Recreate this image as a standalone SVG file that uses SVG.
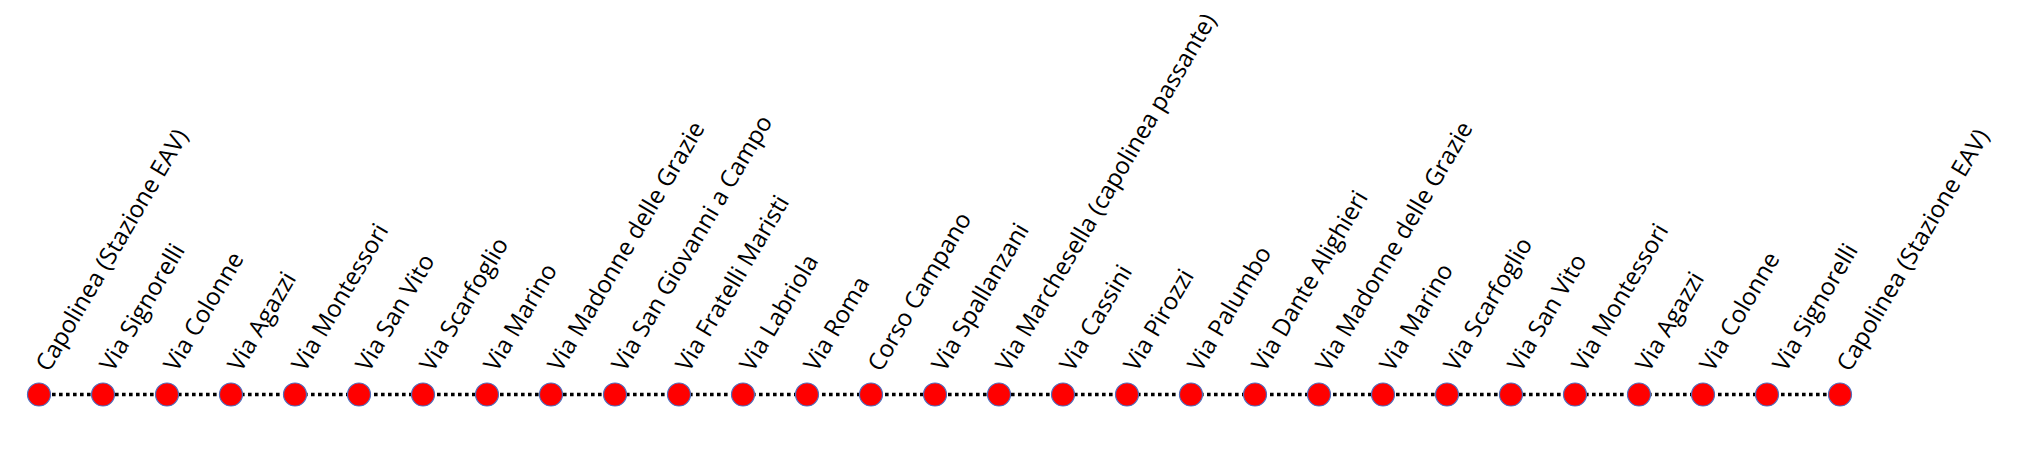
<svg xmlns="http://www.w3.org/2000/svg" width="2022" height="451" viewBox="0 0 2022 451">
<style>
.stop{fill:#FF0000;stroke:#4F6FC0;stroke-width:1.2}
.lbl{font-family:"Open Sans","Noto Sans",sans-serif;font-size:24px;fill:#000}
.line{stroke:#000;stroke-width:3.6;stroke-dasharray:3.6 3.4;fill:none}
</style>
<rect width="2022" height="451" fill="#fff"/>
<g id="connectors">
<line class="line" x1="38" y1="394.5" x2="1840" y2="394.5"/>
</g>
<g id="s0"><circle class="stop" cx="39" cy="394.5" r="11.5"/><text class="lbl" transform="translate(49,373) rotate(-59.5)">Capolinea (Stazione EAV)</text></g>
<g id="s1"><circle class="stop" cx="103" cy="394.5" r="11.5"/><text class="lbl" transform="translate(113,373) rotate(-59.5)">Via Signorelli</text></g>
<g id="s2"><circle class="stop" cx="167" cy="394.5" r="11.5"/><text class="lbl" transform="translate(177,373) rotate(-59.5)">Via Colonne</text></g>
<g id="s3"><circle class="stop" cx="231" cy="394.5" r="11.5"/><text class="lbl" transform="translate(241,373) rotate(-59.5)">Via Agazzi</text></g>
<g id="s4"><circle class="stop" cx="295" cy="394.5" r="11.5"/><text class="lbl" transform="translate(305,373) rotate(-59.5)">Via Montessori</text></g>
<g id="s5"><circle class="stop" cx="359" cy="394.5" r="11.5"/><text class="lbl" transform="translate(369,373) rotate(-59.5)">Via San Vito</text></g>
<g id="s6"><circle class="stop" cx="423" cy="394.5" r="11.5"/><text class="lbl" transform="translate(433,373) rotate(-59.5)">Via Scarfoglio</text></g>
<g id="s7"><circle class="stop" cx="487" cy="394.5" r="11.5"/><text class="lbl" transform="translate(497,373) rotate(-59.5)">Via Marino</text></g>
<g id="s8"><circle class="stop" cx="551" cy="394.5" r="11.5"/><text class="lbl" transform="translate(561,373) rotate(-59.5)">Via Madonne delle Grazie</text></g>
<g id="s9"><circle class="stop" cx="615" cy="394.5" r="11.5"/><text class="lbl" transform="translate(625,373) rotate(-59.5)">Via San Giovanni a Campo</text></g>
<g id="s10"><circle class="stop" cx="679" cy="394.5" r="11.5"/><text class="lbl" transform="translate(689,373) rotate(-59.5)">Via Fratelli Maristi</text></g>
<g id="s11"><circle class="stop" cx="743" cy="394.5" r="11.5"/><text class="lbl" transform="translate(753,373) rotate(-59.5)">Via Labriola</text></g>
<g id="s12"><circle class="stop" cx="807" cy="394.5" r="11.5"/><text class="lbl" transform="translate(817,373) rotate(-59.5)">Via Roma</text></g>
<g id="s13"><circle class="stop" cx="871" cy="394.5" r="11.5"/><text class="lbl" transform="translate(881,373) rotate(-59.5)">Corso Campano</text></g>
<g id="s14"><circle class="stop" cx="935" cy="394.5" r="11.5"/><text class="lbl" transform="translate(945,373) rotate(-59.5)">Via Spallanzani</text></g>
<g id="s15"><circle class="stop" cx="999" cy="394.5" r="11.5"/><text class="lbl" transform="translate(1009,373) rotate(-59.5)">Via Marchesella (capolinea passante)</text></g>
<g id="s16"><circle class="stop" cx="1063" cy="394.5" r="11.5"/><text class="lbl" transform="translate(1073,373) rotate(-59.5)">Via Cassini</text></g>
<g id="s17"><circle class="stop" cx="1127" cy="394.5" r="11.5"/><text class="lbl" transform="translate(1137,373) rotate(-59.5)">Via Pirozzi</text></g>
<g id="s18"><circle class="stop" cx="1191" cy="394.5" r="11.5"/><text class="lbl" transform="translate(1201,373) rotate(-59.5)">Via Palumbo</text></g>
<g id="s19"><circle class="stop" cx="1255" cy="394.5" r="11.5"/><text class="lbl" transform="translate(1265,373) rotate(-59.5)">Via Dante Alighieri</text></g>
<g id="s20"><circle class="stop" cx="1319" cy="394.5" r="11.5"/><text class="lbl" transform="translate(1329,373) rotate(-59.5)">Via Madonne delle Grazie</text></g>
<g id="s21"><circle class="stop" cx="1383" cy="394.5" r="11.5"/><text class="lbl" transform="translate(1393,373) rotate(-59.5)">Via Marino</text></g>
<g id="s22"><circle class="stop" cx="1447" cy="394.5" r="11.5"/><text class="lbl" transform="translate(1457,373) rotate(-59.5)">Via Scarfoglio</text></g>
<g id="s23"><circle class="stop" cx="1511" cy="394.5" r="11.5"/><text class="lbl" transform="translate(1521,373) rotate(-59.5)">Via San Vito</text></g>
<g id="s24"><circle class="stop" cx="1575" cy="394.5" r="11.5"/><text class="lbl" transform="translate(1585,373) rotate(-59.5)">Via Montessori</text></g>
<g id="s25"><circle class="stop" cx="1639" cy="394.5" r="11.5"/><text class="lbl" transform="translate(1649,373) rotate(-59.5)">Via Agazzi</text></g>
<g id="s26"><circle class="stop" cx="1703" cy="394.5" r="11.5"/><text class="lbl" transform="translate(1713,373) rotate(-59.5)">Via Colonne</text></g>
<g id="s27"><circle class="stop" cx="1767" cy="394.5" r="11.5"/><text class="lbl" transform="translate(1786,373) rotate(-59.5)">Via Signorelli</text></g>
<g id="s28"><circle class="stop" cx="1840" cy="394.5" r="11.5"/><text class="lbl" transform="translate(1850,373) rotate(-59.5)">Capolinea (Stazione EAV)</text></g>
</svg>
